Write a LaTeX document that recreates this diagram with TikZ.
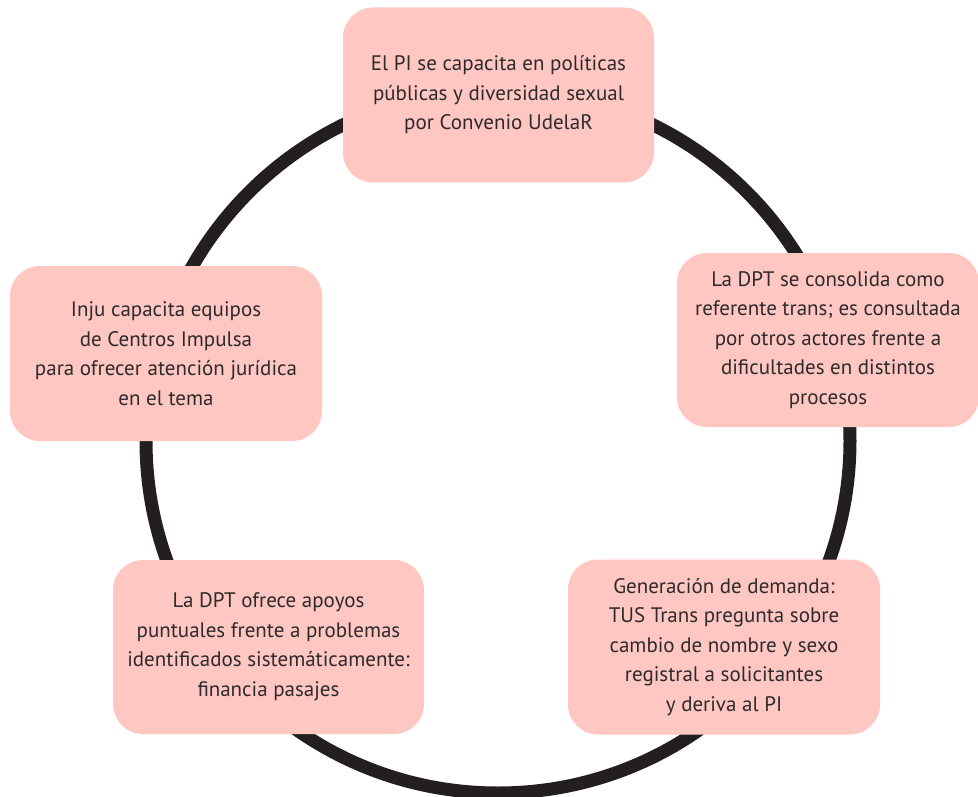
\documentclass[tikz,border=0pt]{standalone}
\usepackage{fontspec}
\setmainfont{PT Sans}
\definecolor{boxfill}{HTML}{FFC7C2}
\definecolor{ringcol}{HTML}{231F20}
\definecolor{txtcol}{HTML}{2E2A2B}
\begin{document}
\begin{tikzpicture}[x=1pt,y=-1pt,
  stagebox/.style={fill=boxfill, rounded corners=30pt, inner sep=0pt,
    align=center, text=txtcol, font=\fontsize{21}{29.5}\selectfont},
  ring/.style={draw=ringcol, line width=13pt}]
\useasboundingbox (0,0) rectangle (978,797);
\coordinate (c) at (498,441);
\draw[ring] (c) circle (352pt);
\node[stagebox, minimum width=311pt, minimum height=175pt] (top) at (498.5,95)
  {El PI se capacita en políticas\\públicas y diversidad sexual\\por Convenio UdelaR};
\node[stagebox, minimum width=302pt, minimum height=174pt] (right) at (828,340)
  {La DPT se consolida como\\referente trans; es consultada\\por otros actores frente a\\dificultades en distintos\\procesos};
\node[stagebox, minimum width=312pt, minimum height=175pt] (left) at (166,353.5)
  {Inju capacita equipos\\de Centros Impulsa\\para ofrecer atención jurídica\\en el tema};
\node[stagebox, minimum width=311pt, minimum height=174pt] (bl) at (268.5,647)
  {La DPT ofrece apoyos\\puntuales frente a problemas\\identificados sistemáticamente:\\financia pasajes};
\node[stagebox, minimum width=312pt, minimum height=175pt] (br) at (724,647)
  {Generación de demanda:\\TUS Trans pregunta sobre\\cambio de nombre y sexo\\registral a solicitantes\\y deriva al PI};
\end{tikzpicture}
\end{document}
